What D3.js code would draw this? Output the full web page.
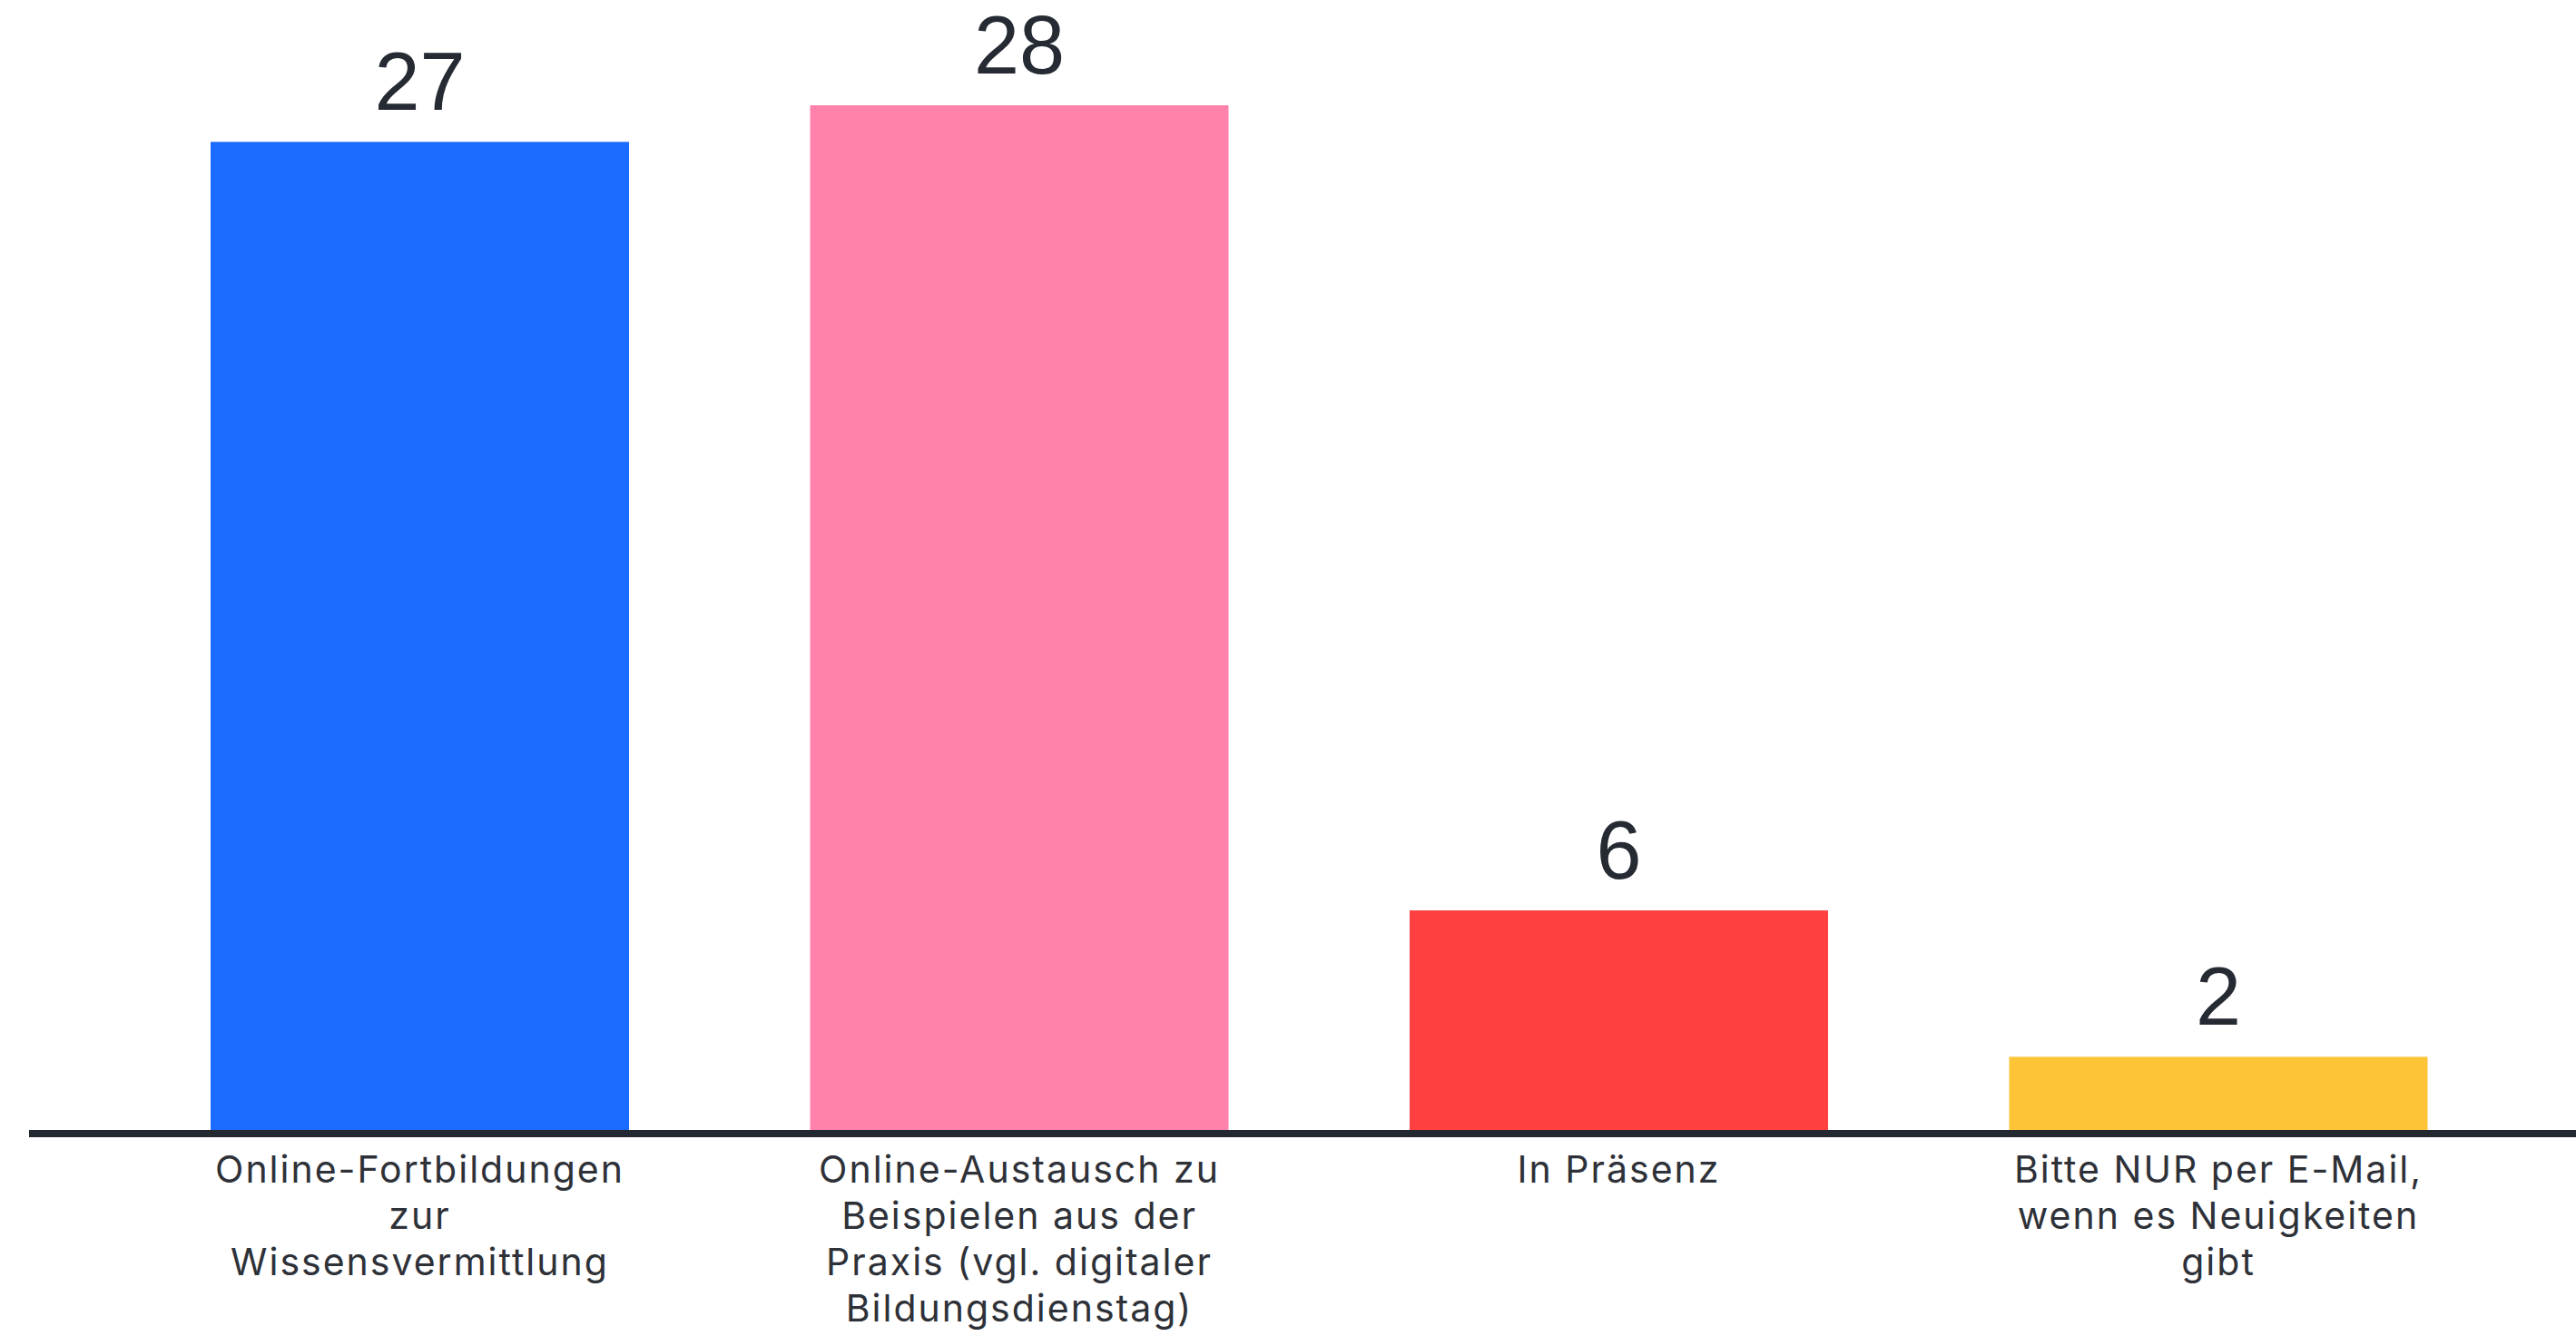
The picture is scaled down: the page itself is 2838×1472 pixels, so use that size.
<!DOCTYPE html>
<html>
<head>
<meta charset="utf-8">
<script src="https://cdn.jsdelivr.net/npm/d3@7"></script>
<style>
  html, body { margin: 0; padding: 0; background: #ffffff; }
  svg { display: block; }
</style>
</head>
<body>
<div id="chart"></div>
<script>
const categories = [
  "Online-Fortbildungen zur Wissensvermittlung",
  "Online-Austausch zu Beispielen aus der Praxis (vgl. digitaler Bildungsdienstag)",
  "In Präsenz",
  "Bitte NUR per E-Mail, wenn es Neuigkeiten gibt"
];
const categoryLines = [
  ["Online-Fortbildungen", "zur", "Wissensvermittlung"],
  ["Online-Austausch zu", "Beispielen aus der", "Praxis (vgl. digitaler", "Bildungsdienstag)"],
  ["In Präsenz"],
  ["Bitte NUR per E-Mail,", "wenn es Neuigkeiten", "gibt"]
];
const values = [27, 28, 6, 2];
const colors = ["#1b6bff", "#ff82ab", "#ff4040", "#fdc437"];

const W = 2838, H = 1472;
const svg = d3.select("#chart").append("svg").attr("width", W).attr("height", H);

const x0 = 232, step = 660.5, bw = 461;
const xs = d3.scaleBand().domain(categories)
  .range([x0, x0 + step * 4 - (step - bw)])
  .paddingInner((step - bw) / step).paddingOuter(0);

const y = d3.scaleLinear().domain([0, 28]).range([1245, 116]);

svg.append("g").selectAll("rect")
  .data(values)
  .join("rect")
  .attr("x", (d, i) => xs(categories[i]))
  .attr("width", xs.bandwidth())
  .attr("y", d => y(d))
  .attr("height", d => y(0) - y(d))
  .attr("fill", (d, i) => colors[i]);

// axis line
svg.append("line")
  .attr("x1", 32).attr("x2", W)
  .attr("y1", y(0) + 4).attr("y2", y(0) + 4)
  .attr("stroke", "#242830").attr("stroke-width", 8);

// value labels
svg.append("g").selectAll("text")
  .data(values)
  .join("text")
  .attr("x", (d, i) => xs(categories[i]) + xs.bandwidth() / 2)
  .attr("y", d => y(d) - 35)
  .attr("text-anchor", "middle")
  .attr("font-family", "Liberation Sans, Arial, sans-serif")
  .attr("font-size", 90)
  .attr("fill", "#262a33")
  .text(d => d);

// category labels
const lab = svg.append("g").selectAll("text")
  .data(categoryLines)
  .join("text")
  .attr("text-anchor", "middle")
  .attr("font-family", "Inter, sans-serif")
  .attr("font-size", 41)
  .attr("letter-spacing", 2)
  .attr("fill", "#2e3138")
  .attr("x", (d, i) => xs(categories[i]) + xs.bandwidth() / 2)
  .attr("y", 1303);
lab.selectAll("tspan")
  .data(d => d)
  .join("tspan")
  .attr("x", function() { return this.parentNode.getAttribute("x"); })
  .attr("dy", (d, j) => j === 0 ? 0 : 51)
  .text(d => d);
</script>
</body>
</html>
